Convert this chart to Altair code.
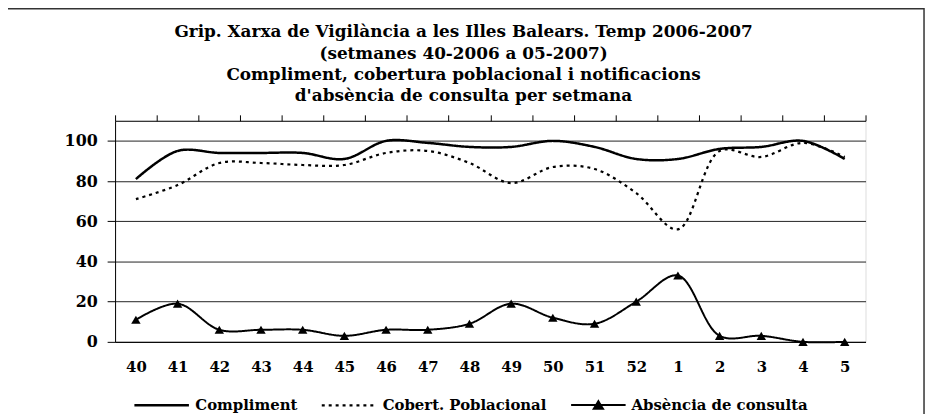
import json
import altair as alt
import pandas as pd

weeks = ["40", "41", "42", "43", "44", "45", "46", "47", "48", "49", "50",
         "51", "52", "1", "2", "3", "4", "5"]
compliment = [81, 95, 94, 94, 94, 91, 100, 99, 97, 97, 100, 97, 91, 91, 96, 97, 100, 91]
cobertura = [71, 78, 89, 89, 88, 88, 94, 95, 89, 79, 87, 86, 74, 56, 95, 92, 99, 92]
absencia = [11, 19, 6, 6, 6, 3, 6, 6, 9, 19, 12, 9, 20, 33, 3, 3, 0, 0]
series_names = ["Compliment", "Cobert. Poblacional", "Absència de consulta"]
title_lines = [
    "Grip. Xarxa de Vigilància a les Illes Balears. Temp 2006-2007",
    "(setmanes 40-2006 a 05-2007)",
    "Compliment, cobertura poblacional i notificacions",
    "d'absència de consulta  per setmana",
]

rows = []
for name, vals in zip(series_names, [compliment, cobertura, absencia]):
    for i, (w, v) in enumerate(zip(weeks, vals)):
        rows.append({"idx": i, "week": w, "serie": name, "value": v})
df = pd.DataFrame(rows)

FONT = "DejaVu Serif"
label_expr = json.dumps(weeks) + "[datum.value]"

x_scale = alt.Scale(domain=[-0.5, len(weeks) - 0.5], nice=False, zero=False)
y_scale = alt.Scale(domain=[0, 110], nice=False)
y_axis = alt.Axis(values=[0, 20, 40, 60, 80, 100], grid=True, gridColor="#222",
                  gridWidth=1, tickSize=8, tickColor="#000", domainColor="#000",
                  labelPadding=10, labelFont=FONT, labelFontSize=16,
                  labelFontWeight="bold", labelColor="#000", title=None)

# legend symbol: a horizontal line with a (hatched-solid) triangle in the middle
tri_path = ("M-1,0H1M-0.17,0.14L0,-0.14L0.17,0.14Z"
            "M-0.14,0.09H0.14M-0.11,0.04H0.11M-0.08,-0.01H0.08"
            "M-0.05,-0.06H0.05M-0.02,-0.1H0.02")
legend = alt.Legend(
    title=None, orient="none", direction="horizontal", legendX=18, legendY=258,
    symbolSize=3025, labelFont=FONT, labelFontSize=15, labelLimit=400,
    labelFontWeight="bold", labelColor="#000", columnPadding=20, labelOffset=5,
    symbolStrokeColor="#000", symbolOpacity=1,
)

lines = alt.Chart(df).mark_line(color="#000", interpolate="catmull-rom").encode(
    x=alt.X("idx:Q", scale=x_scale,
            axis=alt.Axis(values=list(range(len(weeks))), labelExpr=label_expr,
                          ticks=False, grid=False, domainColor="#000",
                          labelPadding=18, labelFont=FONT, labelFontSize=15,
                          labelFontWeight="bold", labelColor="#000", title=None)),
    y=alt.Y("value:Q", scale=y_scale, axis=y_axis),
    strokeDash=alt.StrokeDash("serie:N", sort=series_names,
                              scale=alt.Scale(domain=series_names,
                                              range=[[1, 0], [3, 4], [1, 0]]),
                              legend=legend),
    strokeWidth=alt.StrokeWidth("serie:N", sort=series_names,
                                scale=alt.Scale(domain=series_names, range=[2.5, 2, 1.2]),
                                legend=legend),
    detail="serie:N",
)

legend_shapes = alt.Chart(df).transform_filter("false").mark_point(
    filled=False, color="#000", opacity=1
).encode(
    x=alt.X("idx:Q", scale=x_scale, axis=None),
    y=alt.Y("value:Q", scale=y_scale, axis=y_axis),
    shape=alt.Shape("serie:N", sort=series_names,
                    scale=alt.Scale(domain=series_names,
                                    range=["stroke", "stroke", tri_path]),
                    legend=legend),
)

points = alt.Chart(df).transform_filter(
    alt.datum.serie == series_names[2]
).mark_point(shape="triangle-up", filled=True, color="#000", size=90, opacity=1).encode(
    x=alt.X("idx:Q", scale=x_scale,
            axis=alt.Axis(values=[i - 0.5 for i in range(len(weeks) + 1)],
                          labels=False, ticks=True, tickSize=6, tickColor="#000",
                          grid=False, domainColor="#000", title=None)),
    y=alt.Y("value:Q", scale=y_scale, axis=y_axis),
)

frame = alt.Chart(pd.DataFrame({"a": [0]})).mark_rect(
    fill="transparent", stroke="#333", strokeWidth=1.5
).encode(x=alt.value(-109), x2=alt.value(816), y=alt.value(-113), y2=alt.value(300))

chart = alt.layer(frame, lines, legend_shapes, points).resolve_axis(x="independent").properties(
    width=757, height=223,
    autosize=alt.AutoSizeParams(type="none"),
    padding={"left": 108, "top": 112, "right": 62, "bottom": 71},
    title=alt.TitleParams(text=title_lines, font=FONT, fontSize=17, fontWeight="bold",
                          color="#000", anchor="middle", dx=-27, offset=-98,
                          lineHeight=21.5),
).configure_view(stroke="#888", strokeWidth=1).configure(background="white")

chart.save("out.html", embed_options={"renderer": "svg", "actions": False})
